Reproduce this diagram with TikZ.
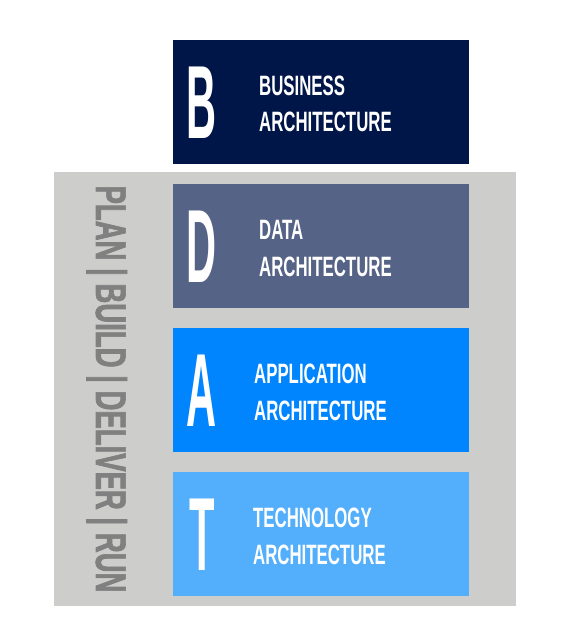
\documentclass[tikz,border=0pt]{standalone}
\usepackage{fontspec}
\newfontfamily\archfont{Liberation Sans}[FakeStretch=0.6]
\newfontfamily\initialfont{Liberation Sans}[FakeStretch=0.4]
\newfontfamily\phasefont{Liberation Sans}[FakeStretch=0.64, BoldFeatures={FakeBold=1.5}]
\definecolor{panelgrey}{HTML}{CDCECC}
\definecolor{phasegrey}{HTML}{808080}
\definecolor{businesscol}{HTML}{001548}
\definecolor{datacol}{HTML}{556386}
\definecolor{appcol}{HTML}{0085FF}
\definecolor{techcol}{HTML}{53AEFC}
\tikzset{
    layer box/.style = {minimum width=296pt, minimum height=124pt, inner sep=0pt, anchor=north west},
    layer initial/.style = {text=white, inner sep=0pt, anchor=base, font=\initialfont\bfseries\fontsize{104}{104}\selectfont},
    layer text/.style = {text=white, inner sep=0pt, anchor=base west, align=left, font=\archfont\bfseries\fontsize{28}{36.5}\selectfont},
    phase text/.style = {text=phasegrey, inner sep=0pt, anchor=base, font=\phasefont\bfseries\fontsize{43}{43}\selectfont}
}

\begin{document}
\begin{tikzpicture}[x=1pt, y=-1pt]
        \useasboundingbox (0, 0) rectangle (570, 644);
        % draw grey panel and the phases along its left side
        \fill[panelgrey] (54, 172) rectangle (516, 606);
        \node[phase text, rotate=-90] (phases) at (96, 389) {PLAN | BUILD | DELIVER | RUN};
        % draw the four layers, each with its initial and its name
        \foreach \ytop/\col/\initial/\tx/\layername in {
                40/businesscol/B/259/{BUSINESS\\ARCHITECTURE},
                184/datacol/D/259/{DATA\\ARCHITECTURE},
                328/appcol/A/254/{APPLICATION\\ARCHITECTURE},
                472/techcol/T/253/{TECHNOLOGY\\ARCHITECTURE}}{
            \node[layer box, fill=\col] (box-\initial) at (173, \ytop) {};
            \node[layer initial] (initial-\initial) at (202, \ytop + 98.5) {\initial};
            \node[layer text] (text-\initial) at (\tx, \ytop + 92) {\layername};
        }
    \end{tikzpicture}
\end{document}
